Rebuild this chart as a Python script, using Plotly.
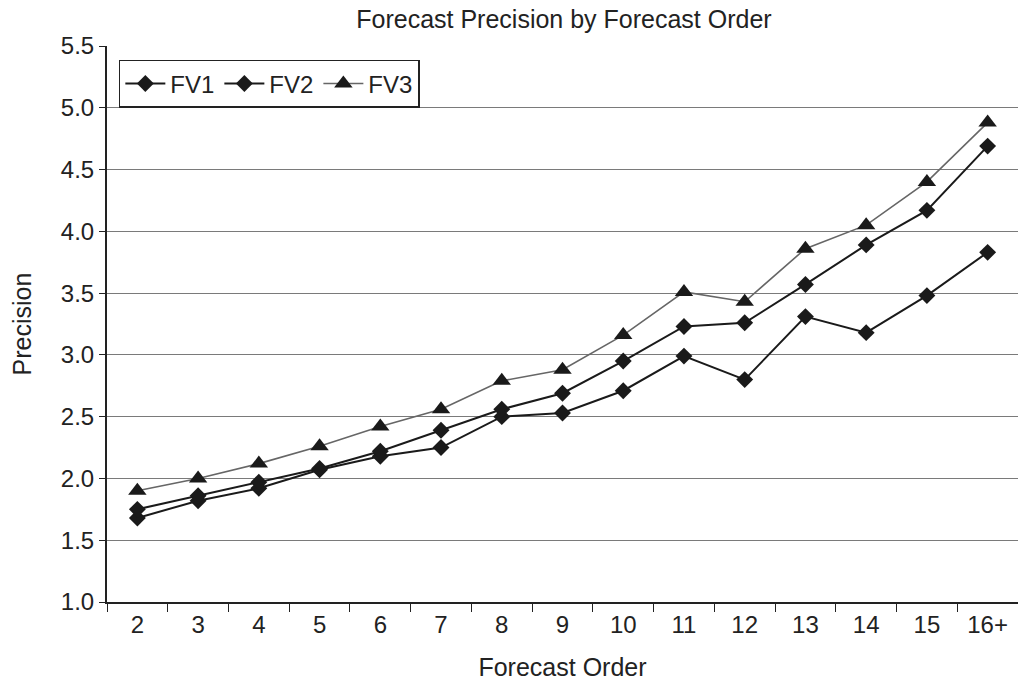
import plotly.graph_objects as go

categories = ["2", "3", "4", "5", "6", "7", "8", "9", "10", "11", "12", "13", "14", "15", "16+"]
fv1 = [1.68, 1.82, 1.92, 2.07, 2.18, 2.25, 2.50, 2.53, 2.71, 2.99, 2.80, 3.31, 3.18, 3.48, 3.83]
fv2 = [1.75, 1.86, 1.97, 2.08, 2.22, 2.39, 2.56, 2.69, 2.95, 3.23, 3.26, 3.57, 3.89, 4.17, 4.69]
fv3 = [1.90, 2.00, 2.12, 2.26, 2.42, 2.56, 2.79, 2.88, 3.16, 3.51, 3.43, 3.86, 4.05, 4.40, 4.88]
y_ticks = [1.0, 1.5, 2.0, 2.5, 3.0, 3.5, 4.0, 4.5, 5.0, 5.5]

FONT = "Liberation Sans, Arial, sans-serif"
TXT = "#222222"

fig = go.Figure()
fig.add_trace(go.Scatter(x=categories, y=fv1, name="FV1", mode="lines+markers",
                         line=dict(color="#1a1a1a", width=2),
                         marker=dict(symbol="diamond", size=13, color="#1a1a1a")))
fig.add_trace(go.Scatter(x=categories, y=fv2, name="FV2", mode="lines+markers",
                         line=dict(color="#1a1a1a", width=2),
                         marker=dict(symbol="diamond", size=13, color="#1a1a1a")))
fig.add_trace(go.Scatter(x=categories, y=fv3, name="FV3", mode="lines+markers",
                         line=dict(color="#666666", width=1.6),
                         marker=dict(symbol="triangle-up", size=16, color="#1a1a1a")))

fig.update_layout(
    width=1018, height=684,
    margin=dict(l=107, r=0, t=46, b=82),
    paper_bgcolor="white", plot_bgcolor="white",
    font=dict(family=FONT, color=TXT, size=24),
    title=dict(text="Forecast Precision by Forecast Order", x=0.554, xanchor="center",
               y=0.972, yanchor="middle", font=dict(size=25, family=FONT, color=TXT)),
    showlegend=True,
    legend=dict(orientation="h", x=0.013, y=0.975, xanchor="left", yanchor="top",
                bordercolor=TXT, borderwidth=1.5, bgcolor="white",
                font=dict(size=24, family=FONT, color=TXT),
                itemwidth=40, tracegroupgap=0),
    xaxis=dict(type="category", categoryorder="array", categoryarray=categories,
               showgrid=False, showline=True, linecolor=TXT, linewidth=2,
               ticks="outside", tickson="boundaries", ticklen=8, tickcolor=TXT,
               tickwidth=1.2, tickfont=dict(size=24, family=FONT, color=TXT),
               title=dict(text="Forecast Order", font=dict(size=25, family=FONT, color=TXT),
                          standoff=22),
               range=[-0.5, 14.5], zeroline=False),
    yaxis=dict(range=[1.0, 5.5], tickvals=y_ticks,
               ticktext=[f"{v:.1f}" for v in y_ticks],
               showgrid=True, gridcolor="#7a7a7a", gridwidth=1.3,
               showline=True, linecolor=TXT, linewidth=2,
               ticks="outside", ticklen=6, tickcolor=TXT, tickwidth=1.2,
               tickfont=dict(size=24, family=FONT, color=TXT),
               title=dict(text="Precision", font=dict(size=25, family=FONT, color=TXT),
                          standoff=22),
               zeroline=False),
)

fig.write_html("out.html")
